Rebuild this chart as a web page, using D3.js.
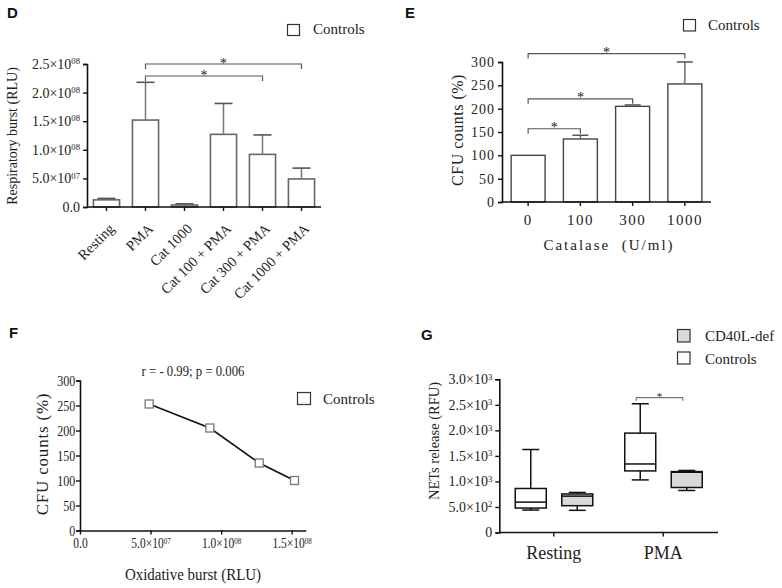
<!DOCTYPE html>
<html><head><meta charset="utf-8">
<script src="https://cdn.jsdelivr.net/npm/d3@7"></script>
<style>
body{margin:0;background:#fff;}
svg{display:block;}
text{font-family:"Liberation Serif","Times New Roman",serif;fill:#222;}
.plabel{font-family:"Liberation Sans",Arial,sans-serif;font-weight:bold;font-size:15px;fill:#111;}
</style></head>
<body>
<svg id="c" width="782" height="588"></svg>
<script>
// ---------- Panel D data ----------
const dCategories = ["Resting","PMA","Cat 1000","Cat 100 + PMA","Cat 300 + PMA","Cat 1000 + PMA"];
const dMeans = [1.25e7, 1.52e8, 0.35e7, 1.27e8, 0.92e8, 0.49e8];
const dUpper = [1.5e7, 2.18e8, 0.55e7, 1.81e8, 1.26e8, 0.68e8];
const dTicks = [0, 5e7, 1e8, 1.5e8, 2e8, 2.5e8];
const dTickLabels = ["0.0","5.0×10^07","1.0×10^08","1.5×10^08","2.0×10^08","2.5×10^08"];
const dBrackets = [
  {from:"PMA", to:"Cat 1000 + PMA", level:2.5e8},
  {from:"PMA", to:"Cat 300 + PMA", level:2.29e8}
];
// ---------- Panel E data ----------
const eCategories = ["0","100","300","1000"];
const eMeans = [100, 135, 205, 253];
const eUpper = [100, 143, 208, 300];
const eTicks = [0,50,100,150,200,250,300];
const eBrackets = [
  {from:"0", to:"100", level:157},
  {from:"0", to:"300", level:221},
  {from:"0", to:"1000", level:318}
];
// ---------- Panel F data ----------
const fBurst = [0.49e8, 0.92e8, 1.27e8, 1.52e8];
const fCFU = [253, 205, 135, 100];
const fXTicks = [0, 5e7, 1e8, 1.5e8];
const fXTickLabels = ["0.0","5.0×10^07","1.0×10^08","1.5×10^08"];
const fYTicks = [0,50,100,150,200,250,300];
const fNote = "r = - 0.99; p = 0.006";
// ---------- Panel G data ----------
const gCategories = ["Resting","PMA"];
const gGroups = ["Controls","CD40L-def"];
// [min, q1, median, q3, max]
const gControls = [[440, 479, 595, 862, 1625],[1030, 1206, 1342, 1946, 2521]];
const gCD40L = [[434, 525, 712, 755, 784],[823, 881, 1180, 1193, 1215]];
const gTicks = [0,500,1000,1500,2000,2500,3000];
const gTickLabels = ["0","5.0×10^2","1.0×10^3","1.5×10^3","2.0×10^3","2.5×10^3","3.0×10^3"];

const svg = d3.select("#c");

function supLabels(g, labels, size, sx){
  g.selectAll(".tick text").each(function(d,i){
    const t = d3.select(this);
    t.text(null).attr("font-size", size);
    if (sx) t.attr("transform", `scale(${sx},1)`);
    const parts = labels[i].split("^");
    t.append("tspan").text(parts[0]);
    if (parts[1]) t.append("tspan").attr("dy","-0.55em").attr("font-size", (size*0.62)+"px").text(parts[1]);
  });
}
function styleAxis(g){
  g.attr("font-family", null).attr("font-size", null);
  g.select(".domain").attr("stroke","#111").attr("stroke-width",1.6);
  g.selectAll(".tick line").attr("stroke","#111").attr("stroke-width",1.4);
  g.selectAll(".tick text").attr("fill","#222");
}
function bracket(g, x1, x2, y, leg, starSize, col){
  g.append("path").attr("d",`M${x1},${y+leg}V${y}H${x2}V${y+leg}`)
    .attr("fill","none").attr("stroke",col||"#555").attr("stroke-width",1.2);
  g.append("text").attr("x",(x1+x2)/2).attr("y",y+starSize*0.25).attr("text-anchor","middle")
    .attr("font-size",starSize).text("*");
}

// ================= Panel D =================
(function(){
  const g = svg.append("g");
  const y = d3.scaleLinear().domain([0,2.5e8]).range([207,64]);
  const x = d3.scaleBand().domain(dCategories).range([87,321]).paddingInner(0.33).paddingOuter(0.165);
  g.append("text").attr("class","plabel").attr("x",7).attr("y",18).text("D");
  g.selectAll("rect.bar").data(dCategories).join("rect")
    .attr("x",d=>x(d)).attr("width",x.bandwidth())
    .attr("y",(d,i)=>y(dMeans[i])).attr("height",(d,i)=>y(0)-y(dMeans[i]))
    .attr("fill","#fff").attr("stroke","#666").attr("stroke-width",1.6);
  dCategories.forEach((c,i)=>{
    const cx = x(c)+x.bandwidth()/2;
    g.append("line").attr("x1",cx).attr("x2",cx).attr("y1",y(dMeans[i])).attr("y2",y(dUpper[i])).attr("stroke","#777").attr("stroke-width",1.5);
    g.append("line").attr("x1",cx-9).attr("x2",cx+9).attr("y1",y(dUpper[i])).attr("y2",y(dUpper[i])).attr("stroke","#555").attr("stroke-width",1.6);
  });
  const ya = g.append("g").attr("transform","translate(87,0)")
    .call(d3.axisLeft(y).tickValues(dTicks).tickSize(4).tickPadding(3));
  styleAxis(ya); supLabels(ya, dTickLabels, 14);
  const xa = g.append("g").attr("transform","translate(0,207)")
    .call(d3.axisBottom(x).tickSize(4).tickSizeOuter(0));
  styleAxis(xa);
  xa.select(".domain").attr("d","M87,0H321");
  xa.selectAll(".tick text").attr("font-size",14.5).attr("text-anchor","end")
    .attr("x",0).attr("y",0).attr("dy","0.35em")
    .attr("transform","translate(5,19) rotate(-45)");
  g.append("text").attr("transform","translate(17,136) rotate(-90)").attr("text-anchor","middle")
    .attr("font-size",14).text("Respiratory burst (RLU)");
  dBrackets.forEach(b=>{
    bracket(g, x(b.from)+x.bandwidth()/2, x(b.to)+x.bandwidth()/2, y(b.level), 5, 14);
  });
  g.append("rect").attr("x",287.5).attr("y",24.5).attr("width",12).attr("height",11).attr("fill","#fff").attr("stroke","#333").attr("stroke-width",1.2);
  g.append("text").attr("x",313).attr("y",34).attr("font-size",15).text("Controls");
})();

// ================= Panel E =================
(function(){
  const g = svg.append("g");
  const y = d3.scaleLinear().domain([0,300]).range([202,62]);
  const x = d3.scaleBand().domain(eCategories).range([502,711]).paddingInner(0.35).paddingOuter(0.175);
  g.append("text").attr("class","plabel").attr("x",405).attr("y",18).text("E");
  g.selectAll("rect.bar").data(eCategories).join("rect")
    .attr("x",d=>x(d)).attr("width",x.bandwidth())
    .attr("y",(d,i)=>y(eMeans[i])).attr("height",(d,i)=>y(0)-y(eMeans[i]))
    .attr("fill","#fff").attr("stroke","#444").attr("stroke-width",1.4);
  eCategories.forEach((c,i)=>{
    if (eUpper[i] <= eMeans[i]) return;
    const cx = x(c)+x.bandwidth()/2;
    g.append("line").attr("x1",cx).attr("x2",cx).attr("y1",y(eMeans[i])).attr("y2",y(eUpper[i])).attr("stroke","#666").attr("stroke-width",1.4);
    g.append("line").attr("x1",cx-8).attr("x2",cx+8).attr("y1",y(eUpper[i])).attr("y2",y(eUpper[i])).attr("stroke","#555").attr("stroke-width",1.5);
  });
  const ya = g.append("g").attr("transform","translate(502,0)")
    .call(d3.axisLeft(y).tickValues(eTicks).tickSize(4).tickPadding(3));
  styleAxis(ya);
  ya.selectAll(".tick text").attr("font-size",14).attr("letter-spacing","1px");
  const xa = g.append("g").attr("transform","translate(0,202)")
    .call(d3.axisBottom(x).tickSize(4).tickSizeOuter(0).tickPadding(8));
  styleAxis(xa);
  xa.select(".domain").attr("d","M502,0H711");
  xa.selectAll(".tick text").attr("font-size",15).attr("letter-spacing","1.5px");
  g.append("text").attr("x",609).attr("y",250).attr("text-anchor","middle").attr("font-size",15)
    .attr("letter-spacing","2px").attr("xml:space","preserve").text("Catalase  (U/ml)");
  g.append("text").attr("transform","translate(463,130) rotate(-90)").attr("text-anchor","middle")
    .attr("font-size",16).attr("letter-spacing","0.5px").text("CFU counts (%)");
  eBrackets.forEach(b=>{
    bracket(g, x(b.from)+x.bandwidth()/2, x(b.to)+x.bandwidth()/2, y(b.level), 5, 14);
  });
  g.append("rect").attr("x",683.5).attr("y",19.5).attr("width",12).attr("height",11.5).attr("fill","#fff").attr("stroke","#333").attr("stroke-width",1.2);
  g.append("text").attr("x",708).attr("y",30).attr("font-size",15).text("Controls");
})();

// ================= Panel F =================
(function(){
  const g = svg.append("g");
  const x = d3.scaleLinear().domain([0,1.6e8]).range([80,305.8]);
  const y = d3.scaleLinear().domain([0,300]).range([530.5,380.5]);
  g.append("text").attr("class","plabel").attr("x",9).attr("y",338).text("F");
  const ya = g.append("g").attr("transform","translate(80,0)")
    .call(d3.axisLeft(y).tickValues(fYTicks).tickSize(4).tickPadding(2));
  styleAxis(ya);
  ya.selectAll(".tick text").attr("font-size",15).attr("transform","scale(0.8,1)");
  const xa = g.append("g").attr("transform","translate(0,530.5)")
    .call(d3.axisBottom(x).tickValues(fXTicks).tickSize(4).tickPadding(4).tickSizeOuter(0));
  styleAxis(xa);
  supLabels(xa, fXTickLabels, 14, 0.82);
  const line = d3.line().x((d,i)=>x(fBurst[i])).y((d,i)=>y(fCFU[i]));
  g.append("path").datum(fCFU).attr("d",line).attr("fill","none").attr("stroke","#111").attr("stroke-width",1.6);
  g.selectAll("rect.pt").data(fCFU).join("rect")
    .attr("x",(d,i)=>x(fBurst[i])-4).attr("y",d=>y(d)-4).attr("width",8).attr("height",8)
    .attr("fill","#fff").attr("stroke","#777").attr("stroke-width",1.3);
  g.append("text").attr("transform","translate(193,376) scale(0.85,1)").attr("text-anchor","middle")
    .attr("font-size",15).text(fNote);
  g.append("text").attr("transform","translate(193,580) scale(0.88,1)").attr("text-anchor","middle")
    .attr("font-size",17).text("Oxidative burst (RLU)");
  g.append("text").attr("transform","translate(48,454) rotate(-90)").attr("text-anchor","middle")
    .attr("font-size",17).attr("letter-spacing","0.8px").text("CFU counts (%)");
  g.append("rect").attr("x",297.5).attr("y",392.5).attr("width",13).attr("height",12).attr("fill","#fff").attr("stroke","#333").attr("stroke-width",1.2);
  g.append("text").attr("x",323).attr("y",404).attr("font-size",15).text("Controls");
})();

// ================= Panel G =================
(function(){
  const g = svg.append("g");
  const y = d3.scaleLinear().domain([0,3000]).range([532.5,379.3]);
  const x = d3.scaleBand().domain(gCategories).range([499,718]);
  const off = d3.scaleOrdinal().domain(gGroups).range([-23,23.5]);
  const fills = d3.scaleOrdinal().domain(gGroups).range(["#fff","#d9d9d9"]);
  g.append("text").attr("class","plabel").attr("x",421).attr("y",340).text("G");
  const bw = 31, cw = 17;
  const series = [["Controls", gControls],["CD40L-def", gCD40L]];
  series.forEach(([grp, vals])=>{
    gCategories.forEach((c,i)=>{
      const v = vals[i];
      const cx = x(c)+x.bandwidth()/2+off(grp);
      g.append("line").attr("x1",cx).attr("x2",cx).attr("y1",y(v[3])).attr("y2",y(v[4])).attr("stroke","#111").attr("stroke-width",1.5);
      g.append("line").attr("x1",cx).attr("x2",cx).attr("y1",y(v[1])).attr("y2",y(v[0])).attr("stroke","#111").attr("stroke-width",1.5);
      g.append("line").attr("x1",cx-cw/2).attr("x2",cx+cw/2).attr("y1",y(v[4])).attr("y2",y(v[4])).attr("stroke","#111").attr("stroke-width",1.5);
      g.append("line").attr("x1",cx-cw/2).attr("x2",cx+cw/2).attr("y1",y(v[0])).attr("y2",y(v[0])).attr("stroke","#111").attr("stroke-width",1.5);
      g.append("rect").attr("x",cx-bw/2).attr("width",bw).attr("y",y(v[3])).attr("height",y(v[1])-y(v[3]))
        .attr("fill",fills(grp)).attr("stroke","#111").attr("stroke-width",1.5);
      g.append("line").attr("x1",cx-bw/2).attr("x2",cx+bw/2).attr("y1",y(v[2])).attr("y2",y(v[2])).attr("stroke","#111").attr("stroke-width",1.5);
    });
  });
  const ya = g.append("g").attr("transform","translate(499.3,0)")
    .call(d3.axisLeft(y).tickValues(gTicks).tickSize(4).tickPadding(3));
  styleAxis(ya); supLabels(ya, gTickLabels, 14);
  const xa = g.append("g").attr("transform","translate(0,532.5)")
    .call(d3.axisBottom(x).tickSize(4).tickSizeOuter(0).tickPadding(10));
  styleAxis(xa);
  xa.select(".domain").attr("d","M499,0H718");
  xa.selectAll(".tick text").attr("font-size",18);
  g.append("text").attr("transform","translate(439,441) rotate(-90)").attr("text-anchor","middle")
    .attr("font-size",14.5).text("NETs release (RFU)");
  const px = x("PMA")+x.bandwidth()/2;
  bracket(g, px+off("Controls")-4, px+off("CD40L-def")-4, y(2640), 3, 11, "#777");
  g.append("rect").attr("x",677.5).attr("y",329.5).attr("width",12.5).attr("height",12.5).attr("fill","#d9d9d9").attr("stroke","#333").attr("stroke-width",1.2);
  g.append("text").attr("x",705).attr("y",341).attr("font-size",15).text("CD40L-def");
  g.append("rect").attr("x",677.5).attr("y",352).attr("width",12.5).attr("height",12).attr("fill","#fff").attr("stroke","#333").attr("stroke-width",1.2);
  g.append("text").attr("x",705).attr("y",364).attr("font-size",15).text("Controls");
})();
</script>
</body></html>
